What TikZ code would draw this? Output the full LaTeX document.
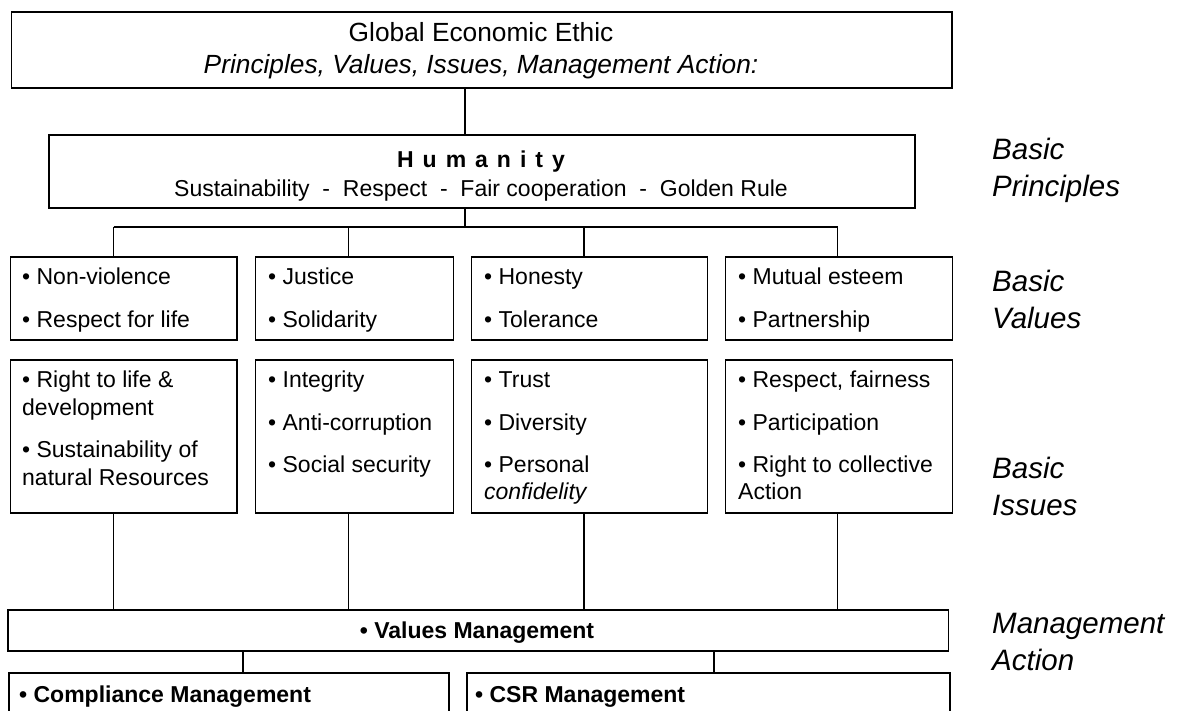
\documentclass[tikz,border=0pt]{standalone}
\usepackage{fontspec}
\setmainfont{Liberation Sans}
\begin{document}
\begin{tikzpicture}[x=1pt,y=-1pt,
  box/.style={draw=black, line width=1.7pt, rectangle, inner sep=0pt, anchor=north west},
  conn/.style={draw=black, line width=1.7pt},
  body/.style={anchor=base west, inner sep=0pt, font=\fontsize{23}{27}\selectfont},
  bodyit/.style={body, font=\fontsize{23}{27}\selectfont\itshape},
  boldtxt/.style={inner sep=0pt, font=\fontsize{23}{27}\selectfont\bfseries},
  title/.style={anchor=base, inner sep=0pt, font=\fontsize{26.3}{31}\selectfont},
  level/.style={anchor=base west, inner sep=0pt, font=\fontsize{29.5}{34}\selectfont\itshape}]
\useasboundingbox (0,0) rectangle (1181,711);
\clip (0,0) rectangle (1181,711);

% x positions of the vertical connectors
\coordinate (xa) at (465,0);
\coordinate (d1) at (113.5,0);
\coordinate (d2) at (348.5,0);
\coordinate (d3) at (583.7,0);
\coordinate (d4) at (837.6,0);
\coordinate (e1) at (243,0);
\coordinate (e2) at (714,0);
\coordinate (bus) at (0,227);

% header boxes
\node[box, minimum width=940.5pt, minimum height=76pt] (top) at (10.5,11) {};
\node[box, minimum width=866pt, minimum height=73pt] (hum) at (48,134) {};

% basic values
\node[box, minimum width=226.4pt, minimum height=83pt] (v1) at (9.6,256) {};
\node[box, minimum width=198.2pt, minimum height=83pt] (v2) at (254.5,256) {};
\node[box, minimum width=235.8pt, minimum height=83pt] (v3) at (470.7,256) {};
\node[box, minimum width=227pt, minimum height=83pt] (v4) at (724.5,256) {};

% basic issues
\node[box, minimum width=226.4pt, minimum height=153pt] (i1) at (9.6,359) {};
\node[box, minimum width=198.2pt, minimum height=153pt] (i2) at (254.5,359) {};
\node[box, minimum width=235.8pt, minimum height=153pt] (i3) at (470.7,359) {};
\node[box, minimum width=227pt, minimum height=153pt] (i4) at (724.5,359) {};

% management action
\node[box, minimum width=940.5pt, minimum height=41pt] (vm) at (7,609) {};
\node[box, minimum width=440pt, minimum height=80pt] (cm) at (8,672) {};
\node[box, minimum width=483pt, minimum height=80pt] (csr) at (466,672) {};

% connectors
\draw[conn] (top.south -| xa) -- (hum.north -| xa);
\draw[conn] (hum.south -| xa) -- (bus -| xa);
\draw[conn] (bus -| d1) -- (bus -| d4);
\draw[conn] (bus -| d1) -- (v1.north -| d1);
\draw[conn] (bus -| d2) -- (v2.north -| d2);
\draw[conn] (bus -| d3) -- (v3.north -| d3);
\draw[conn] (bus -| d4) -- (v4.north -| d4);
\draw[conn] (i1.south -| d1) -- (vm.north -| d1);
\draw[conn] (i2.south -| d2) -- (vm.north -| d2);
\draw[conn] (i3.south -| d3) -- (vm.north -| d3);
\draw[conn] (i4.south -| d4) -- (vm.north -| d4);
\draw[conn] (vm.south -| e1) -- (cm.north -| e1);
\draw[conn] (vm.south -| e2) -- (csr.north -| e2);

% header texts
\node[title] (t1) at (481,42) {Global Economic Ethic};
\node[title, font=\fontsize{26.3}{31}\selectfont\itshape] (t2) at (481,74) {Principles, Values, Issues, Management Action:};
\node[boldtxt, anchor=base] (h1) at (481,168) {\spaceskip=9pt H u m a n i t y};
\node[title, font=\fontsize{23}{27}\selectfont] (h2) at (481,197) {Sustainability \ - \ Respect \ - \ Fair cooperation \ - \ Golden Rule};

% values texts
\node[body] (v1a) at (22,285) {• Non-violence};
\node[body] (v1b) at (22,327) {• Respect for life};
\node[body] (v2a) at (268,285) {• Justice};
\node[body] (v2b) at (268,327) {• Solidarity};
\node[body] (v3a) at (484,285) {• Honesty};
\node[body] (v3b) at (484,327) {• Tolerance};
\node[body] (v4a) at (738,285) {• Mutual esteem};
\node[body] (v4b) at (738,327) {• Partnership};

% issues texts
\node[body] (i1a) at (22,387) {• Right to life \&};
\node[body] (i1b) at (22,415) {development};
\node[body] (i1c) at (22,457) {• Sustainability of};
\node[body] (i1d) at (22,485) {natural Resources};
\node[body] (i2a) at (268,387) {• Integrity};
\node[body] (i2b) at (268,430) {• Anti-corruption};
\node[body] (i2c) at (268,472) {• Social security};
\node[body] (i3a) at (484,387) {• Trust};
\node[body] (i3b) at (484,430) {• Diversity};
\node[body] (i3c) at (484,472) {• Personal};
\node[bodyit] (i3d) at (484,499) {confidelity};
\node[body] (i4a) at (738,387) {• Respect, fairness};
\node[body] (i4b) at (738,430) {• Participation};
\node[body] (i4c) at (738,472) {• Right to collective};
\node[body] (i4d) at (738,499) {Action};

% management texts
\node[boldtxt, anchor=base] (vmt) at (477,638) {• Values Management};
\node[boldtxt, anchor=base west] (cmt) at (19,702) {• Compliance Management};
\node[boldtxt, anchor=base west] (csrt) at (475,702) {• CSR Management};

% level labels
\node[level] (l1a) at (992,160) {Basic};
\node[level] (l1b) at (992,197) {Principles};
\node[level] (l2a) at (992,292) {Basic};
\node[level] (l2b) at (992,329) {Values};
\node[level] (l3a) at (992,478) {Basic};
\node[level] (l3b) at (992,515) {Issues};
\node[level] (l4a) at (992,633) {Management};
\node[level] (l4b) at (992,670) {Action};
\end{tikzpicture}
\end{document}
